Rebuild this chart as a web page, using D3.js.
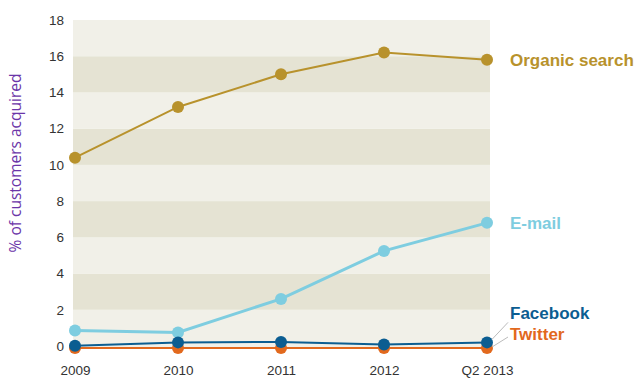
<!DOCTYPE html>
<html><head><meta charset="utf-8">
<script src="https://cdn.jsdelivr.net/npm/d3@7"></script>
<style>body{margin:0;background:#fff}svg{display:block}</style>
</head><body><svg id="c" width="644" height="392"></svg>
<script>
const categories = ["2009","2010","2011","2012","Q2 2013"];
const organic = [10.4, 13.2, 15.0, 16.2, 15.8];
const email = [0.85, 0.75, 2.6, 5.25, 6.8];
const facebook = [0.02, 0.2, 0.22, 0.08, 0.2];
const twitter = [0, 0, 0, 0, 0];
const yTicks = [0,2,4,6,8,10,12,14,16,18];
const seriesNames = ["Organic search","E-mail","Twitter","Facebook"];

const svg = d3.select("#c");
const x = d3.scalePoint().domain(categories).range([75, 487]);
const y = d3.scaleLinear().domain([0,18]).range([346, 20]);
const bgL = 73, bgR = 490;

// bands
const bands = d3.range(0, 18, 2);
svg.append("g").selectAll("rect").data(bands).join("rect")
  .attr("x", bgL).attr("width", bgR-bgL)
  .attr("y", d => y(d+2)).attr("height", d => y(d)-y(d+2) + (d===0?1:0))
  .attr("fill", d => (d/2)%2===0 ? "#f1f0e8" : "#e5e3d3");

// y axis labels
const yAxis = d3.axisLeft(y).tickValues(yTicks).tickSize(0).tickPadding(0);
const gy = svg.append("g").attr("transform","translate(64,0)").call(yAxis);
gy.select(".domain").remove();
gy.selectAll("text").attr("font-family","Liberation Sans, Arial, sans-serif").attr("font-size",13.5).attr("fill","#333");

// x axis labels
const xAxis = d3.axisBottom(x).tickSize(0).tickPadding(0);
const gx = svg.append("g").attr("transform","translate(0,365)").call(xAxis);
gx.select(".domain").remove();
gx.selectAll("text").attr("font-family","Liberation Sans, Arial, sans-serif").attr("font-size",13.5).attr("fill","#333");

// y title
svg.append("text").attr("transform","translate(21,163) rotate(-90)")
  .attr("text-anchor","middle").attr("font-family","Open Sans, sans-serif")
  .attr("font-size",15.5).attr("fill","#6b35a8").text("% of customers acquired");

const series = [
  {name: seriesNames[0], values: organic, color:"#b8922c", w:2, r:6},
  {name: seriesNames[1], values: email, color:"#7ecde0", w:3, r:6},
  {name: seriesNames[2], values: twitter, color:"#e2691d", w:2, r:6, dy:2},
  {name: seriesNames[3], values: facebook, color:"#0b5d91", w:2, r:6}
];
const line = d3.line().x((d,i)=>x(categories[i])).y(d=>y(d));
series.forEach(s => {
  const g = svg.append("g");
  const off = s.dy||0;
  g.append("path").attr("d", line(s.values)).attr("transform",`translate(0,${off})`)
    .attr("fill","none").attr("stroke",s.color).attr("stroke-width",s.w);
  g.selectAll("circle").data(s.values).join("circle")
    .attr("cx",(d,i)=>x(categories[i])).attr("cy",d=>y(d)+off).attr("r",s.r).attr("fill",s.color);
});

// leader lines
const lastX = x(categories[4]);
svg.append("line").attr("x1",lastX+5).attr("y1",y(facebook[4])-3).attr("x2",lastX+21).attr("y2",y(facebook[4])-20)
  .attr("stroke","#bbb").attr("stroke-width",1);
svg.append("line").attr("x1",lastX+5).attr("y1",y(twitter[4])+1).attr("x2",lastX+21).attr("y2",y(twitter[4])-9)
  .attr("stroke","#bbb").attr("stroke-width",1);

// series labels
const lab = [
  {t: seriesNames[0], c:"#b8922c", yv: organic[4], dy:0},
  {t: seriesNames[1], c:"#7ecde0", yv: email[4], dy:0},
  {t: seriesNames[3], c:"#0b5d91", yv: facebook[4], dy:-29},
  {t: seriesNames[2], c:"#e2691d", yv: twitter[4], dy:-12}
];
svg.append("g").selectAll("text").data(lab).join("text")
  .attr("x", 510).attr("y", d => y(d.yv)+d.dy).attr("dy","0.35em")
  .attr("font-family","Liberation Sans, Arial, sans-serif").attr("font-weight","bold")
  .attr("font-size",17).attr("fill",d=>d.c).text(d=>d.t);
</script></body></html>
